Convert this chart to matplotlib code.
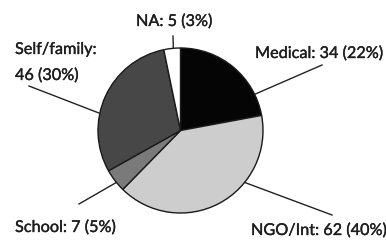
import matplotlib
matplotlib.use("Agg")
import matplotlib.pyplot as plt
import matplotlib.patheffects as pe
import numpy as np

categories = ["Medical", "NGO/Int", "School", "Self/family", "NA"]
counts = [34, 62, 7, 46, 5]
percents = [22, 40, 5, 30, 3]
colors = ["#050505", "#cdcdcd", "#7a7a7a", "#474747", "#ffffff"]

W, H = 386, 240
fig = plt.figure(figsize=(W / 100, H / 100), dpi=100)
ax = fig.add_axes([0, 0, 1, 1])
ax.set_xlim(0, W)
ax.set_ylim(0, H)
ax.set_aspect("equal")
ax.axis("off")

cx, cy, R = 180.5, H - 130.5, 82.5
wedges, _ = ax.pie(counts, colors=colors, startangle=90, counterclock=False,
                   center=(cx, cy), radius=R,
                   wedgeprops=dict(edgecolor="#1a1a1a", linewidth=1.0))
ax.set_xlim(0, W)
ax.set_ylim(0, H)

plt.rcParams["font.family"] = ["Lato", "DejaVu Sans"]
fs = 11.7
tc = "#1e1e1e"
eff = [pe.withStroke(linewidth=0.25, foreground=tc)]

def lab(i):
    return f"{categories[i]}: {counts[i]} ({percents[i]}%)"

# label positions (left, baseline) in pixel coordinates, leader angle, leader end
layout = {
    0: dict(xy=(255, 58), ang=26, end=(322, 65)),
    1: dict(xy=(251, 235), ang=-39, end=(332, 215)),
    2: dict(xy=(15, 232), ang=219, end=(79, 204)),
    4: dict(xy=(136, 26), ang=95, end=(173, 36)),
}
for i, d in layout.items():
    ax.text(d["xy"][0], H - d["xy"][1], lab(i), fontsize=fs, color=tc,
            ha="left", va="baseline", path_effects=eff)
    a = np.deg2rad(d["ang"])
    ax.plot([cx + R * np.cos(a), d["end"][0]], [cy + R * np.sin(a), H - d["end"][1]],
            color="#222222", lw=1.0)

# Self/family two-line label
ax.text(15, H - 54, f"{categories[3]}:", fontsize=fs, color=tc, ha="left",
        va="baseline", path_effects=eff)
ax.text(15, H - 80, f"{counts[3]} ({percents[3]}%)", fontsize=fs, color=tc,
        ha="left", va="baseline", path_effects=eff)
a = np.deg2rad(168)
ax.plot([cx + R * np.cos(a), 29], [cy + R * np.sin(a), H - 86], color="#222222", lw=1.0)

fig.savefig("out.png", dpi=100, facecolor="white")
